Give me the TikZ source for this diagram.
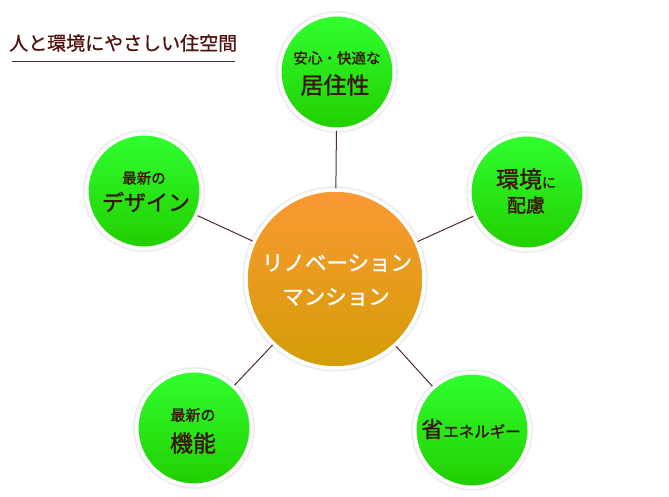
\documentclass[tikz,border=0pt]{standalone}
\usepackage{fontspec}
\setmainfont{Noto Sans CJK JP}
\newfontfamily\jpm[FakeBold=1.3]{Noto Sans CJK JP}
\newfontfamily\jpt[FakeBold=0.8]{Noto Sans CJK JP}
\definecolor{txtbrown}{RGB}{60,20,14}
\definecolor{linebrown}{RGB}{80,45,45}
\definecolor{gtop}{RGB}{48,255,48}
\definecolor{gbot}{RGB}{34,206,0}
\definecolor{otop}{RGB}{250,153,52}
\definecolor{obot}{RGB}{212,157,6}
\newcommand{\fs}[1]{\fontsize{#1}{#1}\selectfont}
\begin{document}
\begin{tikzpicture}[x=1pt,y=-1pt,
  ballbase/.style={circle, draw=white, line width=3.5pt, inner sep=0pt,
    preaction={draw=black!5, line width=8pt},
    preaction={draw=black!7, line width=6pt}},
  greenball/.style={ballbase, minimum size=114.5pt, top color=gtop, bottom color=gbot},
  orangeball/.style={ballbase, minimum size=178pt, top color=otop, bottom color=obot},
  lbl/.style={inner sep=0pt, text=txtbrown, font=\jpm},
  wlbl/.style={inner sep=0pt, text=white, font=\jpm},
  conn/.style={draw=linebrown, line width=1pt}]
\useasboundingbox (0,0) rectangle (669,497);
% title
\node[inner sep=0pt, anchor=west, text=txtbrown!90!red, font=\jpt] (title) at (9,43) {\fs{19}人と環境にやさしい住空間};
\coordinate (ulA) at (12,61);
\coordinate (ulB) at (235,61);
\draw[draw=linebrown, line width=0.8pt] (ulA) -- (ulB);
% circles
\node[orangeball] (c) at (335,279) {};
\node[greenball] (top) at (337,72) {};
\node[greenball] (dz) at (144,191) {};
\node[greenball] (kk) at (527,192) {};
\node[greenball] (kn) at (194,428) {};
\node[greenball] (se) at (472,430) {};
% connectors
\draw[conn] (c) -- (top);
\draw[conn] (c) -- (dz);
\draw[conn] (c) -- (kk);
\draw[conn] (c) -- (kn);
\draw[conn] (c) -- (se);
% labels
\node[wlbl] (c1) at (337,263) {\fs{21.5}リノベーション};
\node[wlbl] (c2) at (336,297) {\fs{21.5}マンション};
\node[lbl] (t1) at (337,58) {\fs{14.5}安心・快適な};
\node[lbl] (t2) at (335,85) {\fs{23}居住性};
\node[lbl] (d1) at (144,178) {\fs{14.5}最新の};
\node[lbl] (d2) at (146,202) {\fs{22}デザイン};
\node[lbl] (k1) at (526,179) {\fs{23}環境\fs{14}に};
\node[lbl] (k2) at (526,205) {\fs{19}配慮};
\node[lbl] (n1) at (193,415) {\fs{15}最新の};
\node[lbl] (n2) at (193,443) {\fs{23}機能};
\node[lbl] (s1) at (471,429) {\fs{22}省\fs{15.5}エネルギー};
\end{tikzpicture}
\end{document}
